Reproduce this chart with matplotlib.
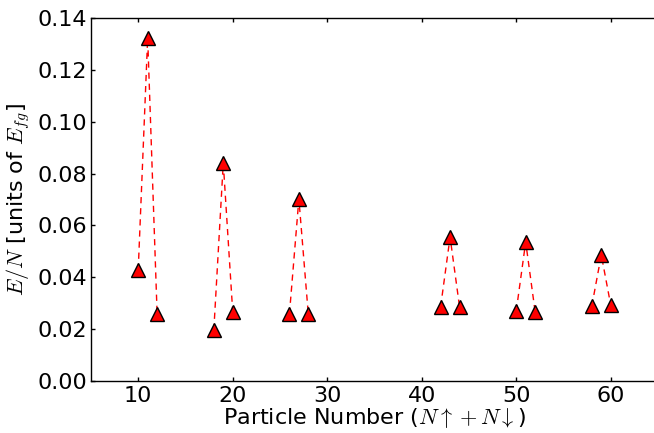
import matplotlib
matplotlib.use("Agg")
import matplotlib.pyplot as plt

plt.rcParams["mathtext.fontset"] = "cm"
plt.rcParams["font.family"] = "DejaVu Sans"

# Shell groups: particle numbers and energy per particle
groups_n = [
    [10, 11, 12],
    [18, 19, 20],
    [26, 27, 28],
    [42, 43, 44],
    [50, 51, 52],
    [58, 59, 60],
]
groups_e = [
    [0.0428, 0.1324, 0.0258],
    [0.0196, 0.0841, 0.0266],
    [0.0258, 0.0702, 0.0256],
    [0.0286, 0.0555, 0.0286],
    [0.0269, 0.0536, 0.0266],
    [0.0289, 0.0486, 0.0292],
]

fig = plt.figure(figsize=(6.54, 4.33), dpi=100)
ax = fig.add_axes([0.1391, 0.1208, 0.8670, 0.8369])

for n, e in zip(groups_n, groups_e):
    ax.plot(n, e, linestyle=(0, (4.5, 3.5)), color="red", linewidth=1.0,
            marker="^", markersize=10, markerfacecolor="red",
            markeredgecolor="black", markeredgewidth=1.0)

ax.set_xlim(5, 65)
ax.set_ylim(0.0, 0.14)
ax.set_xticks([10, 20, 30, 40, 50, 60])
ax.set_yticks([0.00, 0.02, 0.04, 0.06, 0.08, 0.10, 0.12, 0.14])
ax.set_yticklabels(["0.00", "0.02", "0.04", "0.06", "0.08", "0.10", "0.12", "0.14"])
ax.tick_params(direction="in", top=True, right=False, labelsize=16,
               length=3, width=1)
ax.tick_params(axis="x", pad=3.5)
ax.tick_params(axis="y", pad=2.5)
for s in ax.spines.values():
    s.set_linewidth(1.0)

ax.set_xlabel(r"Particle Number ($N\uparrow + N\downarrow$)", fontsize=16, labelpad=0)
ax.set_ylabel(r"$E/N$ [units of $E_{fg}$]", fontsize=16, labelpad=4)

fig.savefig("out.png", dpi=100)
